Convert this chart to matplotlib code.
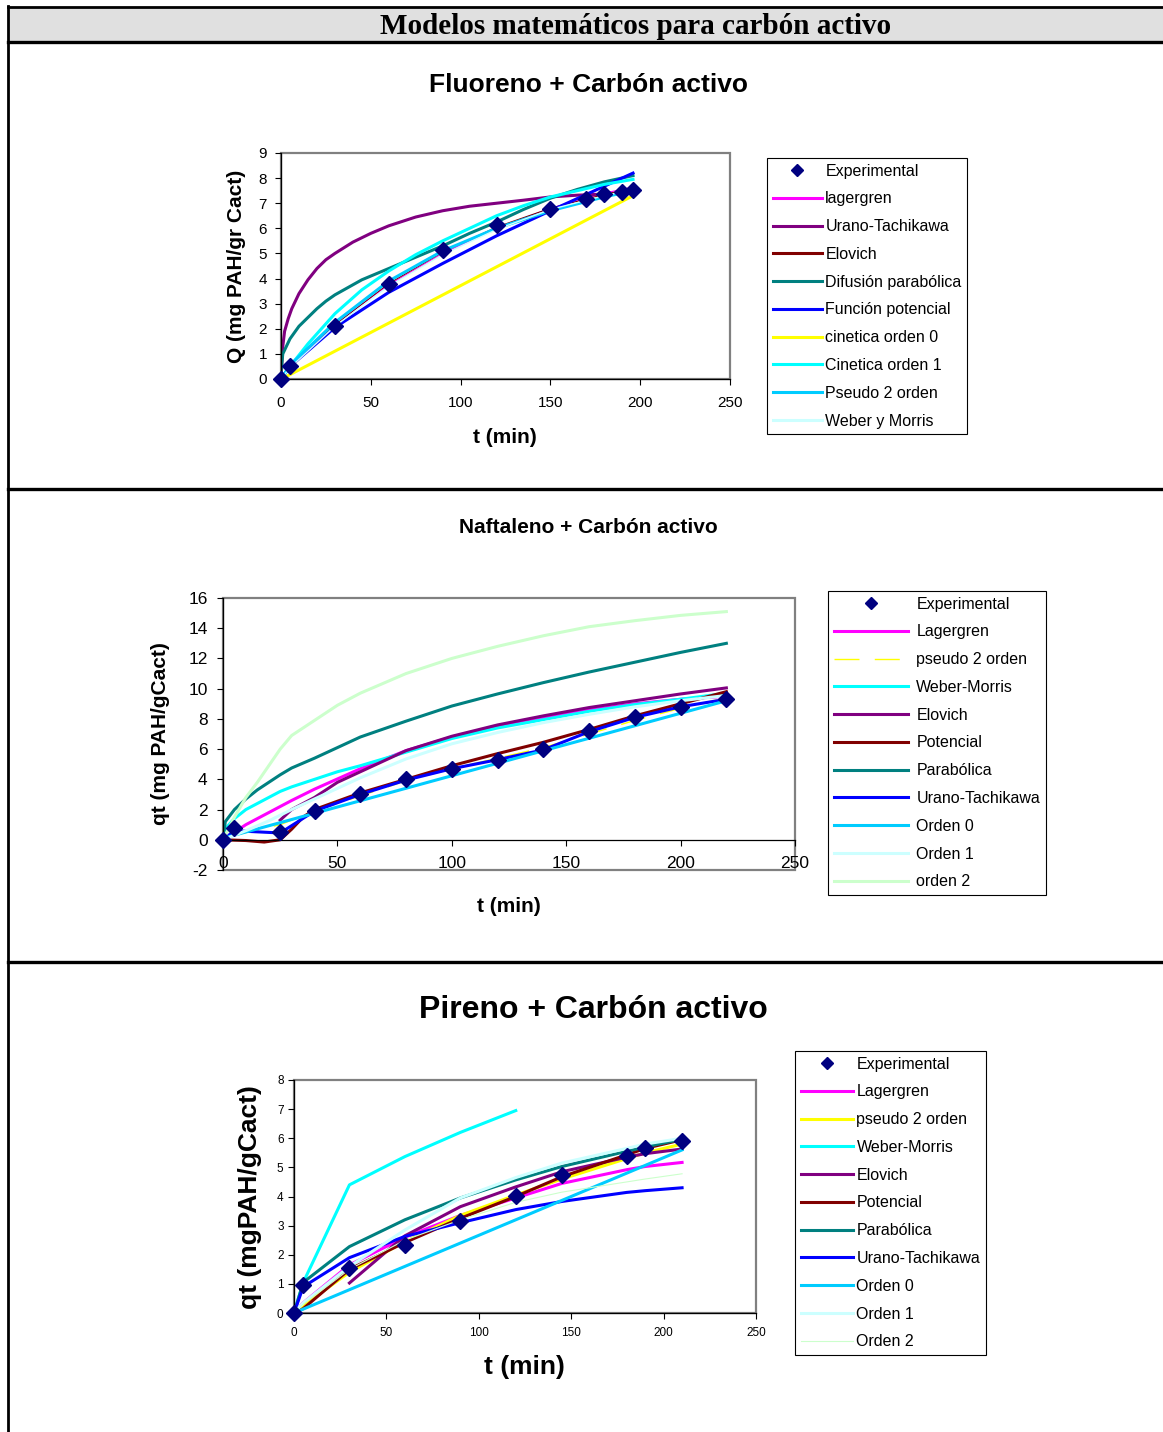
import matplotlib
matplotlib.use('Agg')
import matplotlib.pyplot as plt
from matplotlib.lines import Line2D
from matplotlib.patches import Rectangle

plt.rcParams['font.family'] = ['Liberation Sans', 'DejaVu Sans']

W, H = 1163, 1432

# ---------------- Fluoreno + Carbón activo ----------------
flu_exp_t = [0, 5, 30, 60, 90, 120, 150, 170, 180, 190, 196]
flu_exp_q = [0, 0.5, 2.13, 3.79, 5.15, 6.14, 6.77, 7.17, 7.38, 7.43, 7.51]
flu_lag_t = [0, 5, 30, 60, 90, 120, 150, 180, 196]
flu_lag_q = [0, 0.5, 2.2, 3.75, 5.0, 6.0, 6.8, 7.4, 7.65]
flu_uran_t = [0, 1, 2, 4, 6, 10, 15, 20, 25, 30, 40, 50, 60, 75, 90, 105, 120, 135, 150, 165, 175]
flu_uran_q = [0, 1.3, 1.9, 2.4, 2.8, 3.4, 3.95, 4.4, 4.75, 5.0, 5.45, 5.8, 6.1, 6.45, 6.7, 6.88, 7.0, 7.12, 7.25, 7.32, 7.35]
flu_elov_t = [5, 30, 60, 90, 120, 150, 180, 196]
flu_elov_q = [0.6, 2.15, 3.8, 5.05, 6.05, 6.8, 7.35, 7.6]
flu_parab_t = [0, 1, 5, 10, 20, 25, 30, 45, 60, 75, 90, 105, 120, 135, 150, 165, 180, 196]
flu_parab_q = [0.3, 1.0, 1.6, 2.1, 2.8, 3.1, 3.35, 3.95, 4.4, 4.85, 5.3, 5.8, 6.25, 6.75, 7.2, 7.55, 7.85, 8.1]
flu_pot_t = [0, 5, 30, 60, 90, 120, 150, 170, 196]
flu_pot_q = [0, 0.5, 2.05, 3.45, 4.6, 5.7, 6.7, 7.35, 8.2]
flu_ord0_t = [3, 196]
flu_ord0_q = [0.1, 7.3]
flu_ord1_t = [0, 5, 15, 30, 45, 60, 75, 90, 105, 120, 135, 150, 165, 180, 196]
flu_ord1_q = [0, 0.5, 1.4, 2.6, 3.55, 4.3, 4.95, 5.5, 6.0, 6.5, 6.9, 7.25, 7.5, 7.75, 7.95]
flu_ps2_t = [0, 5, 30, 60, 90, 120, 150, 180, 196]
flu_ps2_q = [0, 0.55, 2.25, 3.9, 5.1, 6.0, 6.7, 7.25, 7.5]
flu_weber_t = [0, 5, 30, 60, 90, 120, 150, 180, 196]
flu_weber_q = [0, 0.45, 2.1, 3.7, 4.95, 5.95, 6.75, 7.3, 7.55]

# ---------------- Naftaleno + Carbón activo ----------------
naf_exp_t = [0, 5, 25, 40, 60, 80, 100, 120, 140, 160, 180, 200, 220]
naf_exp_q = [0, 0.75, 0.5, 1.9, 3.0, 4.0, 4.7, 5.3, 6.0, 7.2, 8.1, 8.8, 9.3]
naf_lag_t = [0, 5, 10, 20, 30, 40, 60, 80, 100, 120, 140, 160, 180, 200, 220]
naf_lag_q = [0, 0.5, 1.0, 1.8, 2.6, 3.35, 4.7, 5.9, 6.8, 7.5, 8.1, 8.6, 9.0, 9.3, 9.5]
naf_ps2_t = [5, 25, 40, 60, 80, 100, 120, 140, 160, 180, 200, 220]
naf_ps2_q = [0.3, 1.0, 1.9, 2.9, 3.9, 4.7, 5.4, 6.1, 7.0, 7.9, 8.7, 9.4]
naf_weber_t = [0, 2, 5, 10, 15, 20, 25, 30, 40, 50, 60, 80, 100, 120, 140, 160, 180, 200, 220]
naf_weber_q = [0, 0.9, 1.4, 2.0, 2.4, 2.8, 3.2, 3.5, 4.0, 4.5, 4.9, 5.8, 6.7, 7.4, 7.95, 8.5, 8.95, 9.3, 9.7]
naf_elov_t = [25, 30, 40, 50, 60, 80, 100, 120, 140, 160, 180, 200, 220]
naf_elov_q = [1.3, 2.0, 2.8, 3.8, 4.5, 5.9, 6.85, 7.6, 8.2, 8.75, 9.2, 9.65, 10.05]
naf_pot_t = [0, 10, 18, 25, 30, 35, 40, 60, 80, 100, 120, 140, 160, 180, 200, 220]
naf_pot_q = [0, -0.05, -0.15, 0.0, 0.7, 1.5, 2.0, 3.1, 4.0, 4.9, 5.7, 6.45, 7.3, 8.2, 9.0, 9.8]
naf_parab_t = [0, 1, 5, 10, 15, 20, 25, 30, 40, 50, 60, 80, 100, 120, 140, 160, 180, 200, 220]
naf_parab_q = [0, 1.2, 2.0, 2.7, 3.3, 3.8, 4.3, 4.75, 5.4, 6.1, 6.8, 7.85, 8.85, 9.65, 10.4, 11.1, 11.75, 12.4, 13.0]
naf_uran_t = [0, 5, 25, 40, 60, 80, 100, 120, 140, 160, 180, 200, 220]
naf_uran_q = [0, 0.6, 0.45, 1.9, 3.0, 3.95, 4.7, 5.3, 5.95, 7.15, 8.1, 8.8, 9.3]
naf_ord0_t = [0, 220]
naf_ord0_q = [0.1, 9.2]
naf_ord1_t = [0, 10, 20, 30, 40, 60, 80, 100, 120, 140, 160, 180, 200, 220]
naf_ord1_q = [0, 0.6, 1.25, 2.0, 2.7, 4.1, 5.35, 6.35, 7.1, 7.75, 8.3, 8.8, 9.2, 9.55]
naf_ord2_t = [0, 5, 10, 15, 20, 25, 30, 40, 50, 60, 80, 100, 120, 140, 160, 180, 200, 220]
naf_ord2_q = [0, 1.5, 2.8, 3.8, 4.9, 6.0, 6.9, 7.9, 8.9, 9.7, 11.0, 12.0, 12.8, 13.5, 14.1, 14.5, 14.85, 15.1]

# ---------------- Pireno + Carbón activo ----------------
pir_exp_t = [0, 5, 30, 60, 90, 120, 145, 180, 190, 210]
pir_exp_q = [0, 0.97, 1.55, 2.35, 3.17, 4.02, 4.75, 5.4, 5.66, 5.9]
pir_t = [0, 5, 30, 60, 90, 120, 145, 180, 190, 210]
pir_lag_q = [0, 0.35, 1.65, 2.6, 3.35, 3.95, 4.45, 4.92, 5.03, 5.17]
pir_ps2_q = [0, 0.25, 1.4, 2.45, 3.35, 4.05, 4.6, 5.3, 5.5, 5.8]
pir_weber_t = [0, 5, 30, 60, 90, 120]
pir_weber_q = [0, 1.05, 4.4, 5.37, 6.2, 6.95]
pir_elov_t = [30, 60, 90, 120, 145, 180, 190, 210]
pir_elov_q = [1.03, 2.65, 3.65, 4.33, 4.85, 5.35, 5.47, 5.63]
pir_pot_q = [0, 0.15, 1.5, 2.42, 3.25, 4.0, 4.68, 5.43, 5.65, 5.95]
pir_parab_q = [0, 1.05, 2.28, 3.2, 3.95, 4.57, 5.03, 5.55, 5.7, 5.97]
pir_uran_q = [0, 0.9, 1.9, 2.63, 3.1, 3.55, 3.83, 4.14, 4.2, 4.3]
pir_ord0_t = [0, 210]
pir_ord0_q = [0, 5.6]
pir_ord1_q = [0, 0.35, 1.6, 2.85, 3.95, 4.65, 5.15, 5.65, 5.8, 6.0]
pir_ord2_q = [0, 0.3, 1.5, 2.5, 3.2, 3.8, 4.15, 4.5, 4.6, 4.78]

NAVY = '#000080'
GRAY = '#808080'

fig = plt.figure(figsize=(W / 100, H / 100), dpi=100)


def fx(x):
    return x / W


def fy(y):
    return 1 - y / H


# ---------- table frame ----------
fig.add_artist(Rectangle((fx(8), fy(42)), fx(1163) - fx(8), fy(7) - fy(42),
                         transform=fig.transFigure, facecolor='#E0E0E0',
                         edgecolor='none', zorder=0))
for yy, lw in [(7, 2.0), (42, 2.4), (489, 2.4), (962, 2.4)]:
    fig.add_artist(Line2D([fx(8), fx(1163)], [fy(yy), fy(yy)], color='black',
                          lw=lw, transform=fig.transFigure))
fig.add_artist(Line2D([fx(8), fx(8)], [fy(6), fy(1432)], color='black',
                      lw=2.0, transform=fig.transFigure))
fig.text(fx(636), fy(26), 'Modelos matemáticos para carbón activo',
         ha='center', va='center', family=['Liberation Serif', 'DejaVu Serif'],
         weight='bold', fontsize=21)


def make_axes(left, top, right, bottom):
    return fig.add_axes([fx(left), fy(bottom), (right - left) / W, (bottom - top) / H])


def style(ax, xlim, ylim, xticks, yticks, fs, xpad, ypad, zero_axis=False):
    ax.set_xlim(*xlim)
    ax.set_ylim(*ylim)
    ax.set_xticks(xticks)
    ax.set_yticks(yticks)
    ax.set_xticklabels([str(v) for v in xticks])
    ax.set_yticklabels([str(v) for v in yticks])
    ax.spines['top'].set_visible(False)
    ax.spines['right'].set_visible(False)
    for s in ['left', 'bottom']:
        ax.spines[s].set_color('black')
        ax.spines[s].set_linewidth(0.9)
        ax.spines[s].set_zorder(3)
    if zero_axis:
        ax.spines['bottom'].set_position(('data', 0))
    ax.add_patch(Rectangle((0, 0), 1, 1, transform=ax.transAxes, fill=False,
                           edgecolor=GRAY, lw=1.6, zorder=0.5, clip_on=False))
    ax.tick_params(axis='both', direction='out', length=4, width=0.8,
                   labelsize=fs, colors='black')
    ax.tick_params(axis='x', pad=xpad)
    ax.tick_params(axis='y', pad=ypad)
    ax.set_facecolor('white')


def add_legend(ax, box_left, box_top, hl, htp, thin=()):
    handles, labels = ax.get_legend_handles_labels()
    leg = ax.legend(handles, labels, loc='upper left',
                    bbox_to_anchor=(fx(box_left), fy(box_top)),
                    bbox_transform=fig.transFigure, borderaxespad=0,
                    fontsize=11.5, frameon=True, fancybox=False,
                    edgecolor='black', framealpha=1, borderpad=0.35,
                    labelspacing=0.8, handlelength=hl, handletextpad=htp,
                    numpoints=1)
    leg.get_frame().set_linewidth(0.8)
    for h, lab in zip(leg.legend_handles, labels):
        if lab == 'Experimental':
            h.set_markersize(6.5)
        elif lab not in thin:
            h.set_linewidth(2.2)
    return leg


LW = 2.2

# ================= Chart 1 =================
ax1 = make_axes(281, 153, 730, 379)
ax1.plot(flu_exp_t, flu_exp_q, linestyle='none', marker='D', ms=8.5,
         color=NAVY, label='Experimental', zorder=10, clip_on=False)
ax1.plot(flu_lag_t, flu_lag_q, color='#FF00FF', lw=0.8, label='lagergren')
ax1.plot(flu_uran_t, flu_uran_q, color='#800080', lw=LW, label='Urano-Tachikawa')
ax1.plot(flu_elov_t, flu_elov_q, color='#800000', lw=0.8, label='Elovich')
ax1.plot(flu_parab_t, flu_parab_q, color='#008080', lw=LW, label='Difusión parabólica')
ax1.plot(flu_pot_t, flu_pot_q, color='#0000FF', lw=LW, label='Función potencial')
ax1.plot(flu_ord0_t, flu_ord0_q, color='#FFFF00', lw=LW, label='cinetica orden 0')
ax1.plot(flu_ord1_t, flu_ord1_q, color='#00FFFF', lw=LW, label='Cinetica orden 1')
ax1.plot(flu_ps2_t, flu_ps2_q, color='#00CCFF', lw=LW, label='Pseudo 2 orden')
ax1.plot(flu_weber_t, flu_weber_q, color='#CCFFFF', lw=1.0, label='Weber y Morris')
style(ax1, (0, 250), (0, 9), [0, 50, 100, 150, 200, 250], list(range(0, 10)),
      11, 8.5, 6)
add_legend(ax1, 767, 158, 3.1, 0.2)
fig.text(fx(588.5), fy(85), 'Fluoreno + Carbón activo', ha='center', va='center',
         weight='bold', fontsize=19)
fig.text(fx(237), fy(266), 'Q (mg PAH/gr Cact)', ha='center', va='center',
         rotation=90, weight='bold', fontsize=15)
fig.text(fx(505), fy(437), 't (min)', ha='center', va='center',
         weight='bold', fontsize=15)

# ================= Chart 2 =================
ax2 = make_axes(223, 598, 795, 870)
ax2.plot(naf_exp_t, naf_exp_q, linestyle='none', marker='D', ms=8.5,
         color=NAVY, label='Experimental', zorder=10, clip_on=False)
ax2.plot(naf_lag_t, naf_lag_q, color='#FF00FF', lw=LW, label='Lagergren')
ax2.plot(naf_ps2_t, naf_ps2_q, color='#FFFF00', lw=1.0, linestyle=(0, (18, 11)),
         label='pseudo 2 orden')
ax2.plot(naf_weber_t, naf_weber_q, color='#00FFFF', lw=LW, label='Weber-Morris')
ax2.plot(naf_elov_t, naf_elov_q, color='#800080', lw=LW, label='Elovich')
ax2.plot(naf_pot_t, naf_pot_q, color='#800000', lw=LW, label='Potencial')
ax2.plot(naf_parab_t, naf_parab_q, color='#008080', lw=LW, label='Parabólica')
ax2.plot(naf_uran_t, naf_uran_q, color='#0000FF', lw=LW, label='Urano-Tachikawa')
ax2.plot(naf_ord0_t, naf_ord0_q, color='#00CCFF', lw=LW, label='Orden 0')
ax2.plot(naf_ord1_t, naf_ord1_q, color='#CCFFFF', lw=LW, label='Orden 1')
ax2.plot(naf_ord2_t, naf_ord2_q, color='#CCFFCC', lw=LW, label='orden 2')
style(ax2, (0, 250), (-2, 16), [0, 50, 100, 150, 200, 250], list(range(-2, 17, 2)),
      12.5, 8, 7, zero_axis=True)
add_legend(ax2, 828, 591, 4.65, 0.53, thin=('pseudo 2 orden',))
fig.text(fx(588), fy(528), 'Naftaleno + Carbón activo', ha='center', va='center',
         weight='bold', fontsize=15)
fig.text(fx(160), fy(734), 'qt (mg PAH/gCact)', ha='center', va='center',
         rotation=90, weight='bold', fontsize=15)
fig.text(fx(509), fy(907), 't (min)', ha='center', va='center',
         weight='bold', fontsize=15)

# ================= Chart 3 =================
ax3 = make_axes(294, 1080, 756, 1313)
ax3.plot(pir_exp_t, pir_exp_q, linestyle='none', marker='D', ms=8.5,
         color=NAVY, label='Experimental', zorder=10, clip_on=False)
ax3.plot(pir_t, pir_lag_q, color='#FF00FF', lw=LW, label='Lagergren')
ax3.plot(pir_t, pir_ps2_q, color='#FFFF00', lw=LW, label='pseudo 2 orden')
ax3.plot(pir_weber_t, pir_weber_q, color='#00FFFF', lw=LW, label='Weber-Morris')
ax3.plot(pir_elov_t, pir_elov_q, color='#800080', lw=LW, label='Elovich')
ax3.plot(pir_t, pir_pot_q, color='#800000', lw=LW, label='Potencial')
ax3.plot(pir_t, pir_parab_q, color='#008080', lw=LW, label='Parabólica')
ax3.plot(pir_t, pir_uran_q, color='#0000FF', lw=LW, label='Urano-Tachikawa')
ax3.plot(pir_ord0_t, pir_ord0_q, color='#00CCFF', lw=LW, label='Orden 0')
ax3.plot(pir_t, pir_ord1_q, color='#CCFFFF', lw=LW, label='Orden 1')
ax3.plot(pir_t, pir_ord2_q, color='#CCFFCC', lw=0.8, label='Orden 2')
style(ax3, (0, 250), (0, 8), [0, 50, 100, 150, 200, 250], list(range(0, 9)),
      8.5, 6, 3.5)
add_legend(ax3, 795, 1051, 3.3, 0.2, thin=('Orden 2',))
fig.text(fx(593), fy(1010), 'Pireno + Carbón activo', ha='center', va='center',
         weight='bold', fontsize=23)
fig.text(fx(250), fy(1197), 'qt (mgPAH/gCact)', ha='center', va='center',
         rotation=90, weight='bold', fontsize=19)
fig.text(fx(524), fy(1367), 't (min)', ha='center', va='center',
         weight='bold', fontsize=19)

fig.savefig('out.png', dpi=100)
